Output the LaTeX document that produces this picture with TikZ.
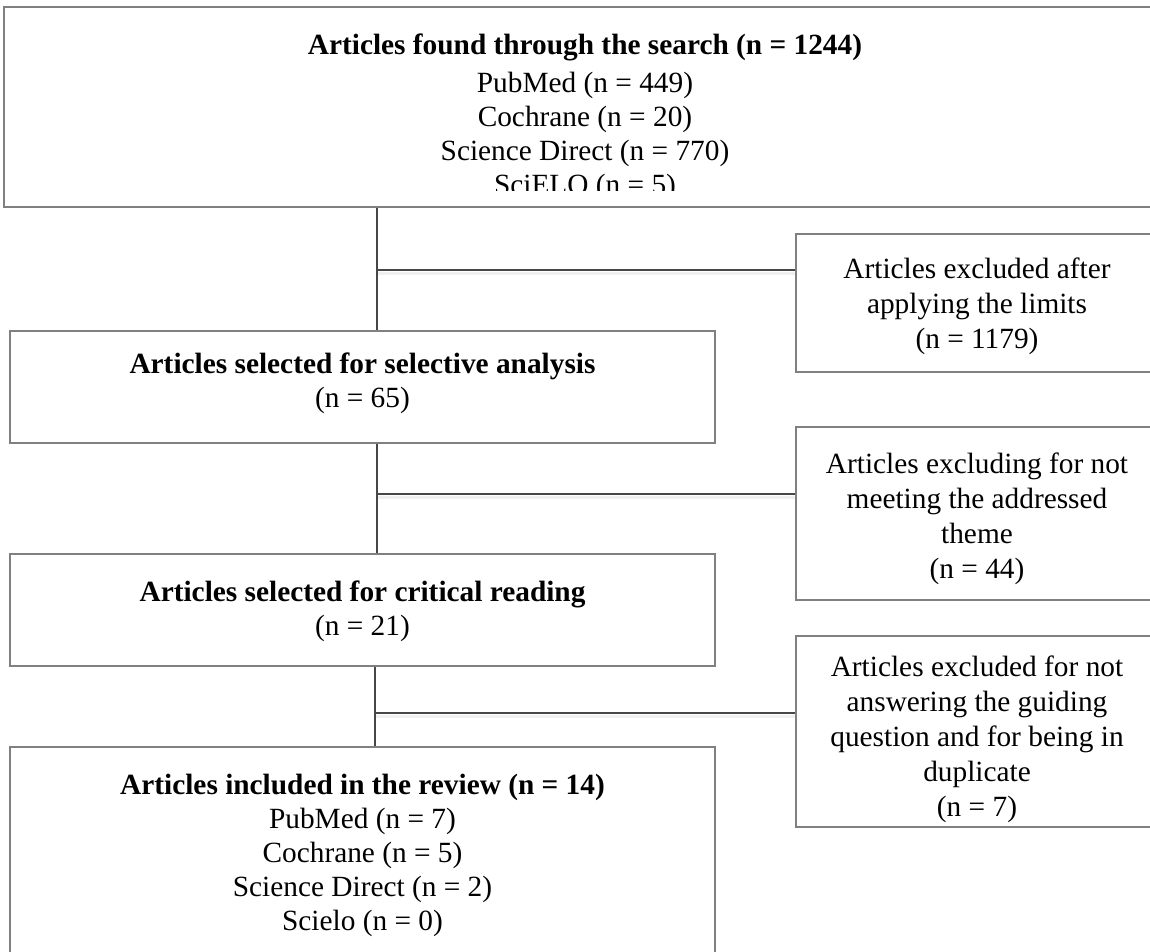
\documentclass[tikz,border=0pt]{standalone}
\usepackage{fontspec}
\setmainfont{Liberation Serif}
\begin{document}
\begin{tikzpicture}[x=0.75pt,y=-0.75pt,
  boxline/.style={draw=black!50, line width=1.1pt},
  conn/.style={draw=black!72, line width=0.9pt},
  shade/.style={draw=black!6, line width=2.5pt},
  txt/.style={align=center, inner sep=0pt, font=\fontsize{22pt}{25.5pt}\selectfont},
  rtxt/.style={txt, font=\fontsize{22pt}{26.2pt}\selectfont}]
\useasboundingbox (0,0) rectangle (1150,952);
\fill[white] (0,0) rectangle (1150,952);

% boxes
\node[boxline, inner sep=0pt, minimum width=1162*0.75pt, minimum height=200*0.75pt] (search) at (585,107) {};
\node[boxline, inner sep=0pt, minimum width=705*0.75pt, minimum height=112*0.75pt] (sel) at (362.5,387) {};
\node[boxline, inner sep=0pt, minimum width=705*0.75pt, minimum height=112*0.75pt] (crit) at (362.5,610) {};
\node[boxline, inner sep=0pt, minimum width=705*0.75pt, minimum height=240*0.75pt] (incl) at (362.5,867) {};
\node[boxline, inner sep=0pt, minimum width=362*0.75pt, minimum height=138*0.75pt] (exc1) at (977,303) {};
\node[boxline, inner sep=0pt, minimum width=362*0.75pt, minimum height=173*0.75pt] (exc2) at (977,513.5) {};
\node[boxline, inner sep=0pt, minimum width=362*0.75pt, minimum height=191*0.75pt] (exc3) at (977,731.5) {};

% texts
\begin{scope}
\clip (4,7) rectangle (1166,191);
\node[txt] (searchtxt) at (585,117) {\textbf{Articles found through the search (n = 1244)}\\[3pt]
PubMed (n = 449)\\Cochrane (n = 20)\\Science Direct (n = 770)\\SciELO (n = 5)};
\end{scope}
\node[txt] (seltxt) at (362.5,383) {\textbf{Articles selected for selective analysis}\\(n = 65)};
\node[txt] (crittxt) at (362.5,611) {\textbf{Articles selected for critical reading}\\(n = 21)};
\node[txt] (incltxt) at (362.5,855) {\textbf{Articles included in the review (n = 14)}\\
PubMed (n = 7)\\Cochrane (n = 5)\\Science Direct (n = 2)\\Scielo (n = 0)};
\node[rtxt] (exc1txt) at (977,306) {Articles excluded after\\applying the limits\\(n = 1179)};
\node[rtxt] (exc2txt) at (977,519) {Articles excluding for not\\meeting the addressed\\theme\\(n = 44)};
\node[rtxt] (exc3txt) at (977,739.5) {Articles excluded for not\\answering the guiding\\question and for being in\\duplicate\\(n = 7)};

% connectors
\coordinate (j1) at (377,270);
\coordinate (j2) at (377,494);
\coordinate (j3) at (375,713);
\draw[shade] ([yshift=-2.5pt]j1) -- ([yshift=-2.5pt]j1 -| exc1.west);
\draw[shade] ([yshift=-2.5pt]j2) -- ([yshift=-2.5pt]j2 -| exc2.west);
\draw[shade] ([yshift=-2.5pt]j3) -- ([yshift=-2.5pt]j3 -| exc3.west);
\draw[conn] (search.south -| j1) -- (sel.north -| j1);
\draw[conn] (j1) -- (j1 -| exc1.west);
\draw[conn] (sel.south -| j2) -- (crit.north -| j2);
\draw[conn] (j2) -- (j2 -| exc2.west);
\draw[conn] (crit.south -| j3) -- (incl.north -| j3);
\draw[conn] (j3) -- (j3 -| exc3.west);
\end{tikzpicture}
\end{document}
